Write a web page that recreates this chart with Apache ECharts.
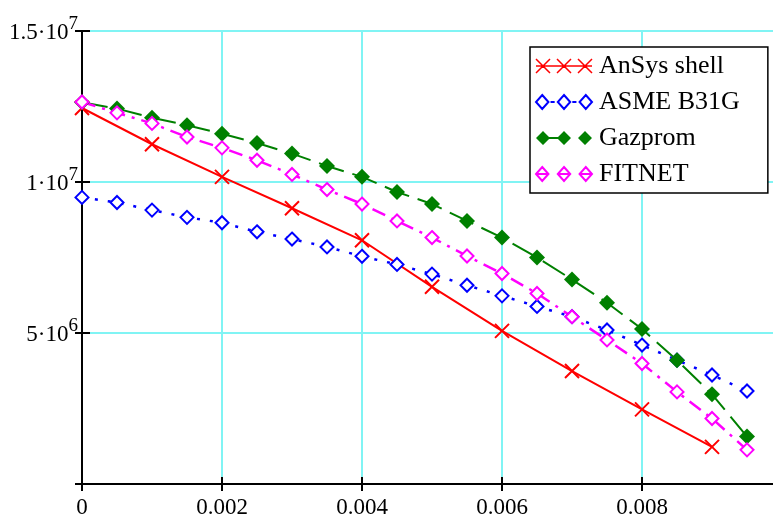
<!DOCTYPE html>
<html>
<head>
<meta charset="utf-8">
<script src="https://cdn.jsdelivr.net/npm/echarts@6/dist/echarts.min.js"></script>
<style>
  html, body { margin: 0; padding: 0; background: #fff; }
  #chart { width: 773px; height: 515px; }
</style>
</head>
<body>
<div id="chart"></div>
<script>
// x positions (depth)
const xFine = [0, 0.0005, 0.001, 0.0015, 0.002, 0.0025, 0.003, 0.0035, 0.004, 0.0045,
  0.005, 0.0055, 0.006, 0.0065, 0.007, 0.0075, 0.008, 0.0085, 0.009, 0.0095];
const xAnsys = [0, 0.001, 0.002, 0.003, 0.004, 0.005, 0.006, 0.007, 0.008, 0.009];

// series values
const ansys = [12.45e6, 11.25e6, 10.17e6, 9.13e6, 8.07e6, 6.53e6, 5.07e6, 3.74e6, 2.47e6, 1.23e6];
const asme = [9.49e6, 9.32e6, 9.07e6, 8.83e6, 8.65e6, 8.35e6, 8.11e6, 7.85e6, 7.54e6, 7.27e6,
  6.95e6, 6.58e6, 6.23e6, 5.88e6, 5.54e6, 5.10e6, 4.60e6, 4.10e6, 3.61e6, 3.08e6];
const gazprom = [12.64e6, 12.43e6, 12.13e6, 11.88e6, 11.60e6, 11.29e6, 10.94e6, 10.53e6, 10.17e6, 9.67e6,
  9.27e6, 8.71e6, 8.16e6, 7.50e6, 6.77e6, 6.00e6, 5.13e6, 4.10e6, 2.97e6, 1.57e6];
const fitnet = [12.65e6, 12.29e6, 11.94e6, 11.49e6, 11.13e6, 10.72e6, 10.25e6, 9.75e6, 9.27e6, 8.71e6,
  8.16e6, 7.55e6, 6.97e6, 6.31e6, 5.54e6, 4.77e6, 3.99e6, 3.05e6, 2.17e6, 1.13e6];

const names = ['AnSys shell', 'ASME B31G', 'Gazprom', 'FITNET'];
// y tick labels: mantissa + exponent
const yTicks = { 5000000: ['5', '6'], 10000000: ['1', '7'], 15000000: ['1.5', '7'] };

const pair = (xs, ys) => xs.map((x, i) => [x, ys[i]]);
const font = 'Liberation Serif';
const cross = 'path://M0,0L10,10M10,0L0,10';

// legend icons: three markers in a row, like the original
const iconCross = 'path://M0,0L14,14M14,0L0,14M21,0L35,14M35,0L21,14M42,0L56,14M56,0L42,14M0,7L56,7';
const iconHollow = 'path://M7,1L13,7L7,13L1,7ZM28,1L34,7L28,13L22,7ZM49,1L55,7L49,13L43,7ZM15,7L19,7M36,7L40,7';
const iconFilled = 'path://M7,0L14,7L7,14L0,7ZM28,0L35,7L28,14L21,7ZM49,0L56,7L49,14L42,7ZM7,6L28,6L28,8L7,8Z';
const iconHollowBar = 'path://M7,1L13,7L7,13L1,7ZM28,1L34,7L28,13L22,7ZM49,1L55,7L49,13L43,7ZM1,7L13,7M22,7L34,7M43,7L55,7';

const chart = echarts.init(document.getElementById('chart'));
const axisBase = {
  type: 'value', min: 0,
  axisLine: { show: true, onZero: false, lineStyle: { color: '#000', width: 2 } },
  axisTick: { show: true, length: 7, lineStyle: { color: '#000', width: 2 } },
};
const grid = { show: true, showMinLine: false, showMaxLine: false, lineStyle: { color: '#80f4f4', width: 2 } };
const xMax = 0.009914;
const option = {
  animation: false,
  backgroundColor: '#fff',
  grid: { left: 82, right: -3, top: 31, bottom: 31, containLabel: false, outerBoundsMode: 'none' },
  xAxis: [
    Object.assign({}, axisBase, {
      max: xMax, interval: 0.002,
      splitLine: Object.assign({}, grid, { showMinLine: true }),
      axisLabel: { fontFamily: font, fontSize: 23, color: '#000', margin: 12,
        formatter: v => v === 0 ? '0' : v.toFixed(3), showMaxLabel: false }
    }),
    Object.assign({}, axisBase, {
      position: 'bottom', max: xMax, interval: 0.002,
      axisTick: { show: true, inside: true, length: 7, lineStyle: { color: '#000', width: 2 } },
      axisLabel: { show: false }, splitLine: { show: false }
    })
  ],
  yAxis: [
    Object.assign({}, axisBase, {
      max: 15000000, interval: 5000000,
      splitLine: Object.assign({}, grid, { showMaxLine: true }),
      axisLabel: {
        margin: 4,
        formatter: v => yTicks[v] ? '{b|' + yTicks[v][0] + '·10}{s|' + yTicks[v][1] + '}' : '',
        rich: {
          b: { fontFamily: font, fontSize: 23, color: '#000', padding: [4, 0, 0, 0] },
          s: { fontFamily: font, fontSize: 19, color: '#000', padding: [0, 0, 14, 0] }
        }
      }
    }),
    Object.assign({}, axisBase, {
      position: 'left', max: 15000000, interval: 5000000,
      axisTick: { show: true, inside: true, length: 8, lineStyle: { color: '#000', width: 2 } },
      axisLabel: { show: false }, splitLine: { show: false }
    })
  ],
  legend: {
    orient: 'vertical', left: 530, top: 47,
    symbolKeepAspect: false,
    data: [
      { name: names[0], icon: iconCross, itemStyle: { color: 'rgba(0,0,0,0)', borderColor: '#f00', borderWidth: 1.5 } },
      { name: names[1], icon: iconHollow, itemStyle: { color: '#fff', borderColor: '#00f', borderWidth: 2 } },
      { name: names[2], icon: iconFilled, itemStyle: { color: '#008000', borderWidth: 0 } },
      { name: names[3], icon: iconHollowBar, itemStyle: { color: '#fff', borderColor: '#f0f', borderWidth: 2 } }
    ],
    backgroundColor: '#fff',
    borderColor: '#000', borderWidth: 1.5, borderRadius: 0,
    padding: [6, 28, 6, 5],
    itemGap: 10, itemWidth: 56, itemHeight: 14,
    textStyle: { fontFamily: font, fontSize: 26, color: '#000', padding: [0, 0, 0, 2] }
  },
  series: [
    {
      name: names[0], type: 'line', data: pair(xAnsys, ansys),
      symbol: cross, symbolSize: 14,
      lineStyle: { color: '#f00', width: 2 },
      itemStyle: { color: 'rgba(0,0,0,0)', borderColor: '#f00', borderWidth: 2 }
    },
    {
      name: names[1], type: 'line', data: pair(xFine, asme),
      symbol: 'emptyDiamond', symbolSize: 13,
      lineStyle: { color: '#00f', width: 2.5, type: [3, 10] },
      itemStyle: { color: '#00f', borderColor: '#00f', borderWidth: 2 }
    },
    {
      name: names[2], type: 'line', data: pair(xFine, gazprom),
      symbol: 'diamond', symbolSize: 16,
      lineStyle: { color: '#008000', width: 2, type: [26, 9] },
      itemStyle: { color: '#008000' }
    },
    {
      name: names[3], type: 'line', data: pair(xFine, fitnet),
      symbol: 'emptyDiamond', symbolSize: 13,
      lineStyle: { color: '#f0f', width: 2.5, type: [14, 7, 3, 7] },
      itemStyle: { color: '#f0f', borderColor: '#f0f', borderWidth: 2 }
    }
  ]
};
chart.setOption(option);
</script>
</body>
</html>
